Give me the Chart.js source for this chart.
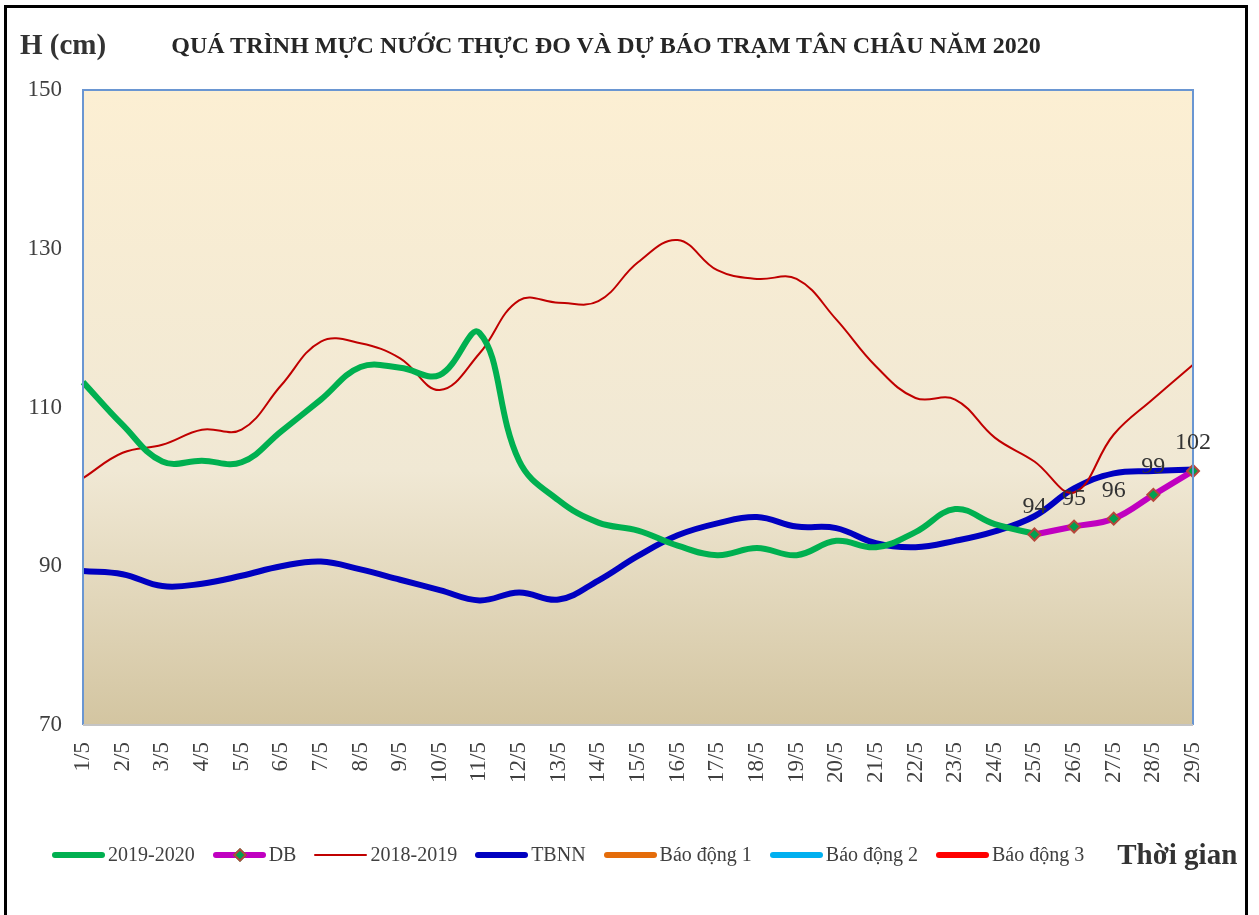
<!DOCTYPE html>
<html>
<head>
<meta charset="utf-8">
<script src="https://cdn.jsdelivr.net/npm/chart.js@4/dist/chart.umd.min.js"></script>
<style>
  html, body { margin: 0; padding: 0; background: #fff; }
  #wrap { position: relative; width: 1259px; height: 915px; overflow: hidden; font-family: "Liberation Serif", "Times New Roman", serif; }
  #frame { position: absolute; left: 4px; top: 5px; width: 1244px; height: 930px; border: 3px solid #000; box-sizing: border-box; }
  #chart { position: absolute; left: 0; top: 0; }
  #unit { position: absolute; left: 20px; top: 28px; font-size: 29px; font-weight: bold; color: #333; }
  #title { position: absolute; left: 0; width: 1212px; top: 32px; text-align: center; font-size: 24px; font-weight: bold; color: #262626; }
  #legend { position: absolute; left: 52px; top: 838px; display: flex; align-items: center; gap: 18px; font-size: 20px; color: #404040; }
  .item { display: flex; align-items: center; }
  .sw { position: relative; width: 53px; margin-right: 3px; border-radius: 3px; }
  .dia { position: absolute; left: 22px; width: 6px; height: 6px; background: #00A050; border: 2px solid #B5473A; transform: rotate(45deg); }
  #xname { font-size: 29px; font-weight: bold; color: #333; margin-left: 15px; }
</style>
</head>
<body>
<div id="wrap">
  <canvas id="chart" width="1259" height="915"></canvas>
  <div id="frame"></div>
  <div id="unit">H (cm)</div>
  <div id="title">QUÁ TRÌNH MỰC NƯỚC THỰC ĐO VÀ DỰ BÁO TRẠM TÂN CHÂU NĂM 2020</div>
  <div id="legend"></div>
</div>
<script>
// ngày trong tháng 5
const days = ['1/5','2/5','3/5','4/5','5/5','6/5','7/5','8/5','9/5','10/5','11/5','12/5','13/5','14/5','15/5',
  '16/5','17/5','18/5','19/5','20/5','21/5','22/5','23/5','24/5','25/5','26/5','27/5','28/5','29/5'];

// mực nước thực đo 2019-2020
const h2020 = [113.2, 107.8, 103.2, 103.3, 103.1, 107.0, 111.0, 115.1, 115.0, 114.1, 119.4, 103.3, 98.3, 95.5, 94.5,
  92.6, 91.4, 92.3, 91.4, 93.2, 92.4, 94.3, 97.2, 95.3, 94.1, null, null, null, null];

// dự báo
const hDB = [null, null, null, null, null, null, null, null, null, null, null, null, null, null, null,
  null, null, null, null, null, null, null, null, null, 94, 95, 96, 99, 102];

// cùng kỳ 2018-2019
const h2019 = [101.1, 104.3, 105.3, 107.2, 107.2, 112.8, 118.3, 118.1, 116.2, 112.2, 116.8, 123.5, 123.2, 123.4, 128.3,
  131.1, 127.3, 126.2, 126.2, 121.1, 115.2, 111.2, 111.0, 106.2, 103.2, 99.3, 106.6, 111.1, 115.4];

// trung bình nhiều năm
const hTBNN = [89.4, 89.0, 87.5, 87.8, 88.8, 90.0, 90.6, 89.6, 88.3, 87.0, 85.7, 86.7, 85.8, 88.2, 91.3,
  93.9, 95.4, 96.2, 95.0, 94.8, 92.9, 92.4, 93.2, 94.4, 96.3, 99.8, 101.7, 102.0, 102.2];

// các cấp báo động (ngoài khoảng trục tung)
const noData = days.map(() => null);

const yTicks = [70, 90, 110, 130, 150];

const seriesNames = ['2019-2020', 'DB', '2018-2019', 'TBNN', 'Báo động 1', 'Báo động 2', 'Báo động 3'];
const seriesColors = ['#00B050', '#C000C0', '#C00000', '#0000C0', '#E46C0A', '#00B0F0', '#FF0000'];
const seriesWidths = [6, 6, 2, 6, 6, 6, 6];
const seriesData = [h2020, hDB, h2019, hTBNN, noData, noData, noData];

// nền và khung vùng vẽ
const plotBg = {
    id: 'plotBg',
    beforeDatasetsDraw(chart) {
        const { ctx, chartArea: a } = chart;
        const g = ctx.createLinearGradient(0, a.top, 0, a.bottom);
        g.addColorStop(0, '#FCEFD3');
        g.addColorStop(0.6, '#F0E8D4');
        g.addColorStop(1, '#D3C5A1');
        ctx.save();
        ctx.fillStyle = g;
        ctx.fillRect(a.left, a.top, a.right - a.left, a.bottom - a.top);
        ctx.restore();
    },
    afterDatasetsDraw(chart) {
        const { ctx, chartArea: a } = chart;
        ctx.save();
        ctx.lineWidth = 2;
        ctx.strokeStyle = '#6A96D2';
        ctx.beginPath();
        ctx.moveTo(a.left, a.bottom);
        ctx.lineTo(a.left, a.top);
        ctx.lineTo(a.right, a.top);
        ctx.lineTo(a.right, a.bottom);
        ctx.stroke();
        ctx.strokeStyle = '#C4C4C4';
        ctx.beginPath();
        ctx.moveTo(a.left, a.bottom);
        ctx.lineTo(a.right, a.bottom);
        ctx.stroke();
        ctx.restore();
    }
};

// nhãn giá trị dự báo
const dbLabels = {
    id: 'dbLabels',
    afterDraw(chart) {
        const { ctx } = chart;
        const meta = chart.getDatasetMeta(1);
        ctx.save();
        ctx.font = '24px "Liberation Serif", serif';
        ctx.fillStyle = '#333333';
        ctx.textAlign = 'center';
        ctx.textBaseline = 'middle';
        meta.data.forEach((pt, i) => {
            if (hDB[i] === null) return;
            ctx.fillText(String(hDB[i]), pt.x, pt.y - 28);
        });
        ctx.restore();
    }
};

const datasets = seriesNames.map((name, i) => ({
    label: name,
    data: seriesData[i],
    borderColor: seriesColors[i],
    backgroundColor: seriesColors[i],
    borderWidth: seriesWidths[i],
    fill: false,
    tension: 0.4,
    pointRadius: 0,
    order: i === 1 ? 0 : 1
}));
// điểm dự báo hình thoi
Object.assign(datasets[1], {
    pointStyle: 'rectRot',
    pointRadius: 6,
    pointBackgroundColor: '#00A050',
    pointBorderColor: '#B5473A',
    pointBorderWidth: 2,
    clip: 10
});

new Chart(document.getElementById('chart').getContext('2d'), {
    type: 'line',
    data: { labels: days, datasets: datasets },
    options: {
        responsive: false,
        animation: false,
        layout: { padding: { top: 90, left: 0, right: 66, bottom: 0 } },
        plugins: {
            legend: { display: false },
            tooltip: { enabled: false }
        },
        scales: {
            x: {
                grid: { display: false, drawTicks: false },
                border: { display: false },
                ticks: {
                    minRotation: 90,
                    maxRotation: 90,
                    autoSkip: false,
                    padding: 17,
                    color: '#404040',
                    font: { family: 'Liberation Serif', size: 23 }
                },
                afterFit(scale) { scale.height = 190; }
            },
            y: {
                min: 70,
                max: 150,
                grid: { display: false, drawTicks: false },
                border: { display: false },
                afterBuildTicks(scale) { scale.ticks = yTicks.map(v => ({ value: v })); },
                ticks: {
                    padding: 21,
                    color: '#404040',
                    font: { family: 'Liberation Serif', size: 23 }
                },
                afterFit(scale) { scale.width = 83; }
            }
        }
    },
    plugins: [plotBg, dbLabels]
});

// chú thích
const legend = document.getElementById('legend');
seriesNames.forEach((name, i) => {
    const item = document.createElement('div');
    item.className = 'item';
    const sw = document.createElement('div');
    sw.className = 'sw';
    sw.style.height = seriesWidths[i] + 'px';
    sw.style.background = seriesColors[i];
    if (i === 1) {
        const d = document.createElement('div');
        d.className = 'dia';
        d.style.top = (seriesWidths[i] / 2 - 5) + 'px';
        sw.appendChild(d);
    }
    const txt = document.createElement('span');
    txt.textContent = name;
    item.appendChild(sw);
    item.appendChild(txt);
    legend.appendChild(item);
});
const xname = document.createElement('span');
xname.id = 'xname';
xname.textContent = 'Thời gian';
legend.appendChild(xname);
</script>
</body>
</html>
